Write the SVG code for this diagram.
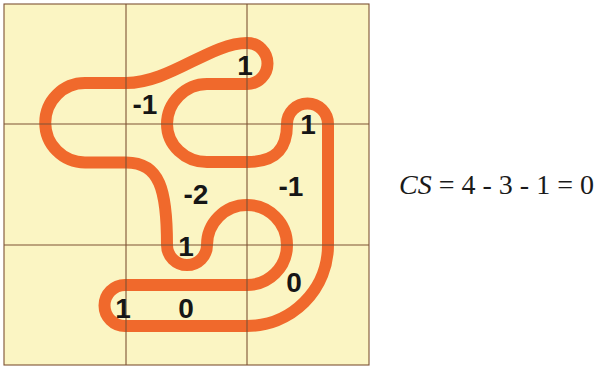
<svg xmlns="http://www.w3.org/2000/svg" width="598" height="367" viewBox="0 0 598 367">
  <style>
    .cell { fill: #FBF5C3; }
    .grid { stroke: #7E5234; stroke-width: 1.1; fill: none; }
    .curve { stroke: #F0692C; stroke-width: 12; fill: none; stroke-linejoin: round; stroke-linecap: round; }
    .lbl { font-family: "Liberation Sans", Arial, Helvetica, sans-serif; font-weight: bold; font-size: 28px; fill: #161616; text-anchor: middle; }
    .eq { font-family: "Liberation Serif", "Times New Roman", Times, serif; font-size: 28px; fill: #1a1a1a; }
  </style>
  <rect width="598" height="367" fill="#ffffff"/>
  <g id="board">
    <rect class="cell" x="4" y="4" width="365" height="361"/>
  </g>
  <g id="connectors">
    <path id="curve" class="curve" d="M247,43 C210,43 170,83 126,83 L85,83 A39.5,39.5 0 0 0 85,162.5 L126,162.5 C160,162.5 167,190 167,245 A20,20 0 0 0 207,245 A40,40 0 1 1 247,285 L125,285 A20.5,20.5 0 0 0 125,326 L247,326 A81,81 0 0 0 328,245 L328,124 A20.5,20.5 0 0 0 287,124 C287,150 275,162 247,162 L207,162 C185,162 167,145 167,124 C167,103 185,84 207,84 L247,84 A20.5,20.5 0 0 0 247,43 Z"/>
  </g>
  <g id="gridlines">
    <rect class="grid" x="4" y="4" width="365" height="361"/>
    <line class="grid" x1="126" y1="4" x2="126" y2="365"/>
    <line class="grid" x1="247" y1="4" x2="247" y2="365"/>
    <line class="grid" x1="4" y1="124" x2="369" y2="124"/>
    <line class="grid" x1="4" y1="245" x2="369" y2="245"/>
  </g>
  <g id="labels">
    <text class="lbl" x="245" y="75">1</text>
    <text class="lbl" x="145" y="114">-1</text>
    <text class="lbl" x="308" y="134">1</text>
    <text class="lbl" x="196" y="204">-2</text>
    <text class="lbl" x="291" y="196">-1</text>
    <text class="lbl" x="186" y="256">1</text>
    <text class="lbl" x="294" y="292">0</text>
    <text class="lbl" x="123" y="318">1</text>
    <text class="lbl" x="186" y="318">0</text>
  </g>
  <g id="equation">
    <text class="eq" x="399" y="194"><tspan font-style="italic">CS</tspan> = 4 - 3 - 1 = 0</text>
  </g>
</svg>
